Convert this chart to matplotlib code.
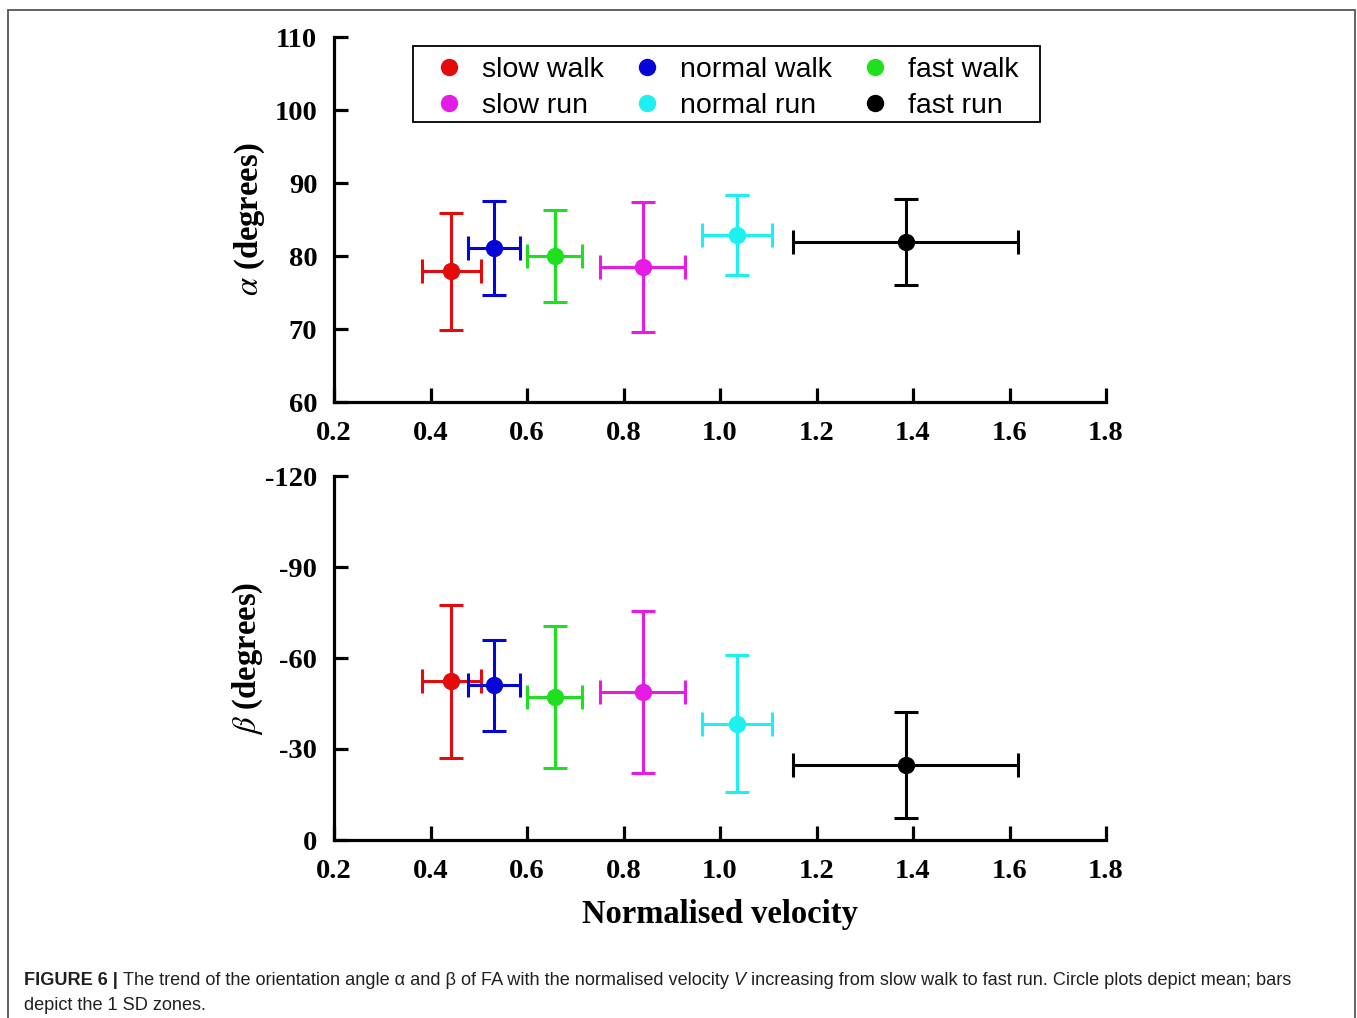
import matplotlib
matplotlib.use("Agg")
import matplotlib.pyplot as plt
from matplotlib.lines import Line2D
from matplotlib.patches import Rectangle

# ---- data ----
groups = ["slow walk", "normal walk", "fast walk", "slow run", "normal run", "fast run"]
colors = ["#e30b0b", "#0505d8", "#1fe01f", "#e61be6", "#1cf0f0", "#000000"]
vel = [0.443, 0.532, 0.658, 0.840, 1.035, 1.385]
vel_sd = [0.061, 0.054, 0.057, 0.088, 0.073, 0.233]
alpha = [77.9, 81.15, 80.0, 78.5, 82.9, 81.9]
alpha_sd = [8.0, 6.45, 6.35, 8.9, 5.5, 5.9]
beta = [-52.3, -51.0, -47.1, -48.8, -38.4, -24.7]
beta_sd = [25.3, 15.0, 23.5, 26.8, 22.6, 17.5]
xticks = [0.2, 0.4, 0.6, 0.8, 1.0, 1.2, 1.4, 1.6, 1.8]
xticklabels = ["0.2", "0.4", "0.6", "0.8", "1.0", "1.2", "1.4", "1.6", "1.8"]
a_ticks = [60, 70, 80, 90, 100, 110]
b_ticks = [0, -30, -60, -90, -120]

plt.rcParams["axes.unicode_minus"] = False
plt.rcParams["mathtext.fontset"] = "stix"

W, H = 1357, 1018
fig = plt.figure(figsize=(W / 100, H / 100), dpi=100)

def px_axes(l, t, r, b):
    return fig.add_axes([l / W, 1 - b / H, (r - l) / W, (b - t) / H])

ax1 = px_axes(334, 37, 1106, 402)
ax2 = px_axes(334, 476, 1106, 840)

tick_font = dict(family="Liberation Serif", weight="bold", size=20.5)

for ax in (ax1, ax2):
    for s in ("top", "right"):
        ax.spines[s].set_visible(False)
    for s in ("left", "bottom"):
        ax.spines[s].set_linewidth(2.3)
    ax.tick_params(direction="in", length=10, width=2.3)
    ax.tick_params(axis="x", pad=14)
    ax.tick_params(axis="y", pad=12)
    ax.set_xlim(0.2, 1.8)
    ax.set_xticks(xticks)
    ax.set_xticklabels(xticklabels, fontdict=tick_font)

def draw(ax, yvals, ysd):
    for i in range(len(groups)):
        ax.errorbar(vel[i], yvals[i], xerr=vel_sd[i], yerr=ysd[i], fmt="o",
                    color=colors[i], ms=11.5, elinewidth=2.2, capsize=8.5,
                    capthick=2.2, clip_on=False, zorder=3)

draw(ax1, alpha, alpha_sd)
draw(ax2, beta, beta_sd)

ax1.set_ylim(60, 110)
ax1.set_yticks(a_ticks)
ax1.set_yticklabels([str(v) for v in a_ticks], fontdict=tick_font)
ax2.set_ylim(0, -120)
ax2.set_yticks(b_ticks)
ax2.set_yticklabels([str(v) for v in b_ticks], fontdict=tick_font)

lab_font = dict(family="Liberation Serif", weight="bold", size=23.5)
fig.text(250 / W, 1 - 219 / H, r"$\alpha$ (degrees)", rotation=90, ha="center", va="center", **lab_font)
fig.text(248 / W, 1 - 658 / H, r"$\beta$ (degrees)", rotation=90, ha="center", va="center", **lab_font)
fig.text(720 / W, 1 - 914 / H, "Normalised velocity", ha="center", va="center", **lab_font)

# legend (column-major order for 3 columns)
order = [0, 3, 1, 4, 2, 5]
handles = [Line2D([], [], ls="none", marker="o", ms=11.5, color=colors[i]) for i in order]
labels = [groups[i] for i in order]
leg = fig.legend(handles, labels, ncol=3, loc="upper left",
                 bbox_to_anchor=(420.5 / W, 1 - 57 / H),
                 prop=dict(family="Liberation Sans", size=20.5),
                 frameon=False,
                 handlelength=2.0, handletextpad=0.16, columnspacing=0.51,
                 labelspacing=0.35, borderpad=0, borderaxespad=0)
fig.add_artist(Rectangle((413, H - 122), 627, 76, transform=None, fill=False,
                         edgecolor="black", linewidth=1.3))

# frame around figure
fig.add_artist(Rectangle((8, -20), 1347, H - 10 + 20, transform=None, fill=False,
                         edgecolor="#555555", linewidth=1.3))

# caption
cap_color = "#231f20"
cap_size = 13.1
renderer = fig.canvas.get_renderer()

def seq(x, y, parts):
    for txt, kw in parts:
        t = fig.text(x / W, 1 - y / H, txt, ha="left", va="baseline", color=cap_color,
                     family="Liberation Sans", size=cap_size, **kw)
        bb = t.get_window_extent(renderer)
        x = bb.x1
    return x

seq(24, 985, [("FIGURE 6 | ", dict(weight="bold")),
              ("The trend of the orientation angle \u03b1 and \u03b2 of FA with the normalised velocity ", {}),
              ("V", dict(style="italic")),
              (" increasing from slow walk to fast run. Circle plots depict mean; bars", {})])
seq(24, 1010, [("depict the 1 SD zones.", {})])

fig.savefig("out.png", dpi=100)
